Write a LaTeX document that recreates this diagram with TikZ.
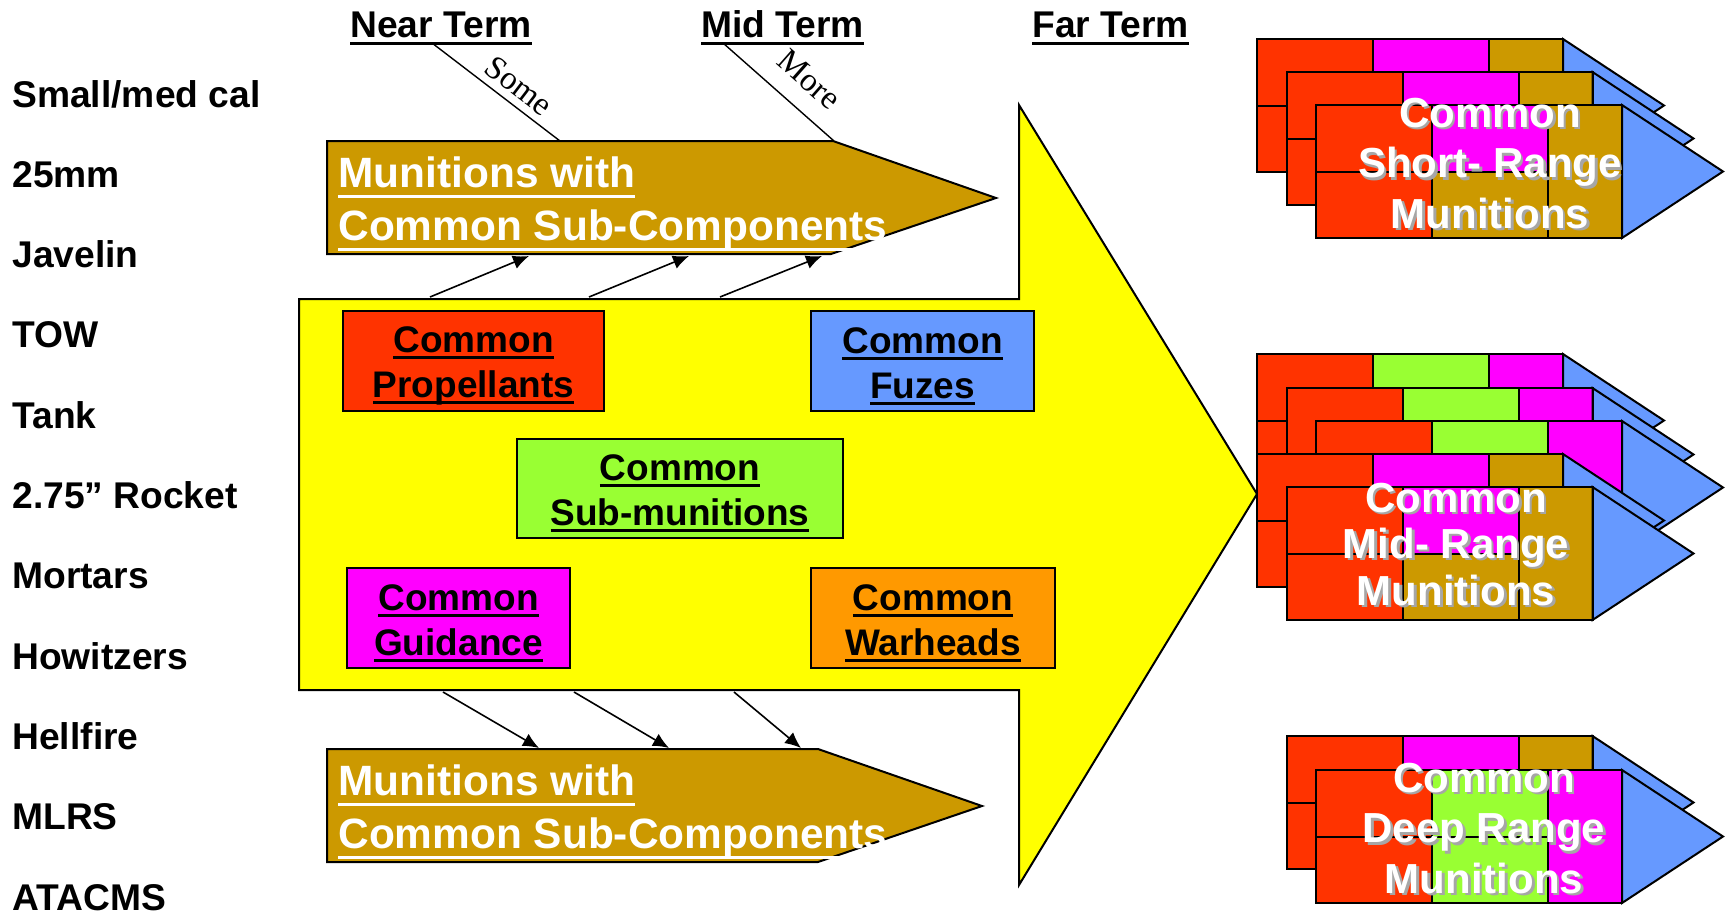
\documentclass[tikz,border=0pt]{standalone}
\usepackage{fontspec}
\setmainfont{Liberation Sans}
\newfontfamily\tnr{Liberation Serif}
\usetikzlibrary{arrows.meta}
\definecolor{cred}{HTML}{FF3300}
\definecolor{cmag}{HTML}{FF00FF}
\definecolor{cbrown}{HTML}{CC9900}
\definecolor{cblue}{HTML}{6699FF}
\definecolor{cgreen}{HTML}{99FF33}
\definecolor{corange}{HTML}{FF9900}
\definecolor{cyellow}{HTML}{FFFF00}
\definecolor{shadowgray}{HTML}{A6A6A6}
\newcommand{\ulx}[2][-3.3pt]{{\setbox0=\hbox{#2}\rlap{\rule[#1]{\wd0}{1.6pt}}\box0}}
\newcommand{\pencil}[5]{%
  \begin{scope}[shift={(#1,#2)}]
    \fill[cred] (0,0) rectangle (116,133);
    \fill[#3] (116,0) rectangle (232,66.5);
    \fill[#4] (116,66.5) rectangle (232,133);
    \fill[#5] (232,0) rectangle (306,133);
    \draw[pline, fill=cblue] (306,0) -- (407,66.5) -- (306,133) -- cycle;
    \draw[pline] (0,0) rectangle (306,133) (116,0) -- (116,133) (232,0) -- (232,133) (0,66.5) -- (232,66.5);
  \end{scope}}
\newcommand{\shtext}[4]{%
  \node[ptext, text=shadowgray] (#1s) at ({#2+2.5},{#3+2.5}) {#4};
  \node[ptext] (#1) at (#2,#3) {#4};}
\begin{document}
\begin{tikzpicture}[x=0.5pt,y=-0.5pt, line join=miter,
  lab/.style={anchor=base west, inner sep=0, font=\fontsize{18.6}{22}\selectfont\bfseries},
  compbox/.style={draw=black, line width=0.8pt, inner sep=0},
  comptext/.style={align=center, inner sep=0, font=\fontsize{18.5}{22.5}\selectfont\bfseries},
  mtext/.style={anchor=base west, inner sep=0, text=white, font=\fontsize{21.2}{26}\selectfont\bfseries},
  ptext/.style={anchor=base, inner sep=0, text=white, font=\fontsize{21}{25}\selectfont\bfseries},
  conn/.style={line width=0.8pt, -{Latex[length=8pt,width=7pt]}},
  thin/.style={line width=0.7pt},
  outl/.style={draw=black, line width=1pt},
  pline/.style={draw=black, line width=1pt},
  slab/.style={sloped, inner sep=1pt, font=\tnr\fontsize{16.5}{16.5}\selectfont}]
\useasboundingbox (0,0) rectangle (1729,911);

% left labels
\foreach \t [count=\i] in {Small/med cal,25mm,Javelin,TOW,Tank,2.75” Rocket,Mortars,Howitzers,Hellfire,MLRS,ATACMS}
  \node[lab] (lab\i) at (12,{107+80.3*(\i-1)}) {\t};

% titles
\node[lab] (near) at (350,37) {\ulx[-4.1pt]{Near Term}};
\node[lab] (mid) at (701,37) {\ulx[-4.1pt]{Mid Term}};
\node[lab] (far) at (1032,37) {\ulx[-4.1pt]{Far Term}};

% big yellow arrow
\draw[outl, fill=cyellow] (299,299) -- (1019,299) -- (1019,105) -- (1257,494) -- (1019,885) -- (1019,690) -- (299,690) -- cycle;

% brown arrows
\draw[outl, fill=cbrown] (327,141) -- (833,141) -- (996,198) -- (831,254) -- (327,254) -- cycle;
\draw[outl, fill=cbrown] (327,749) -- (818,749) -- (982,806) -- (818,862) -- (327,862) -- cycle;

% some / more lines
\coordinate (s1) at (432,43);
\coordinate (s2) at (560,141);
\coordinate (m1) at (723,43);
\coordinate (m2) at (834,141);
\draw[thin] (s1) -- node[slab, above=2.5pt, pos=0.59] (some) {Some} (s2);
\draw[thin] (m1) -- node[slab, above=8pt, pos=0.6] (more) {More} (m2);

% brown arrow texts
\node[mtext] (ua) at (338,187) {\ulx[-5.35pt]{Munitions with}};
\node[mtext] (ub) at (338,240) {\ulx[-5.35pt]{Common Sub-Components}};
\node[mtext] (la) at (338,795) {\ulx[-5.35pt]{Munitions with}};
\node[mtext] (lb) at (338,848) {\ulx[-5.35pt]{Common Sub-Components}};

% connectors up
\coordinate (u1s) at (430,297); \coordinate (u1e) at (529,256);
\coordinate (u2s) at (589,297); \coordinate (u2e) at (689,256);
\coordinate (u3s) at (720,297); \coordinate (u3e) at (822,256);
\draw[conn] (u1s) -- (u1e);
\draw[conn] (u2s) -- (u2e);
\draw[conn] (u3s) -- (u3e);
% connectors down
\coordinate (d1s) at (443,692); \coordinate (d1e) at (539,748);
\coordinate (d2s) at (574,692); \coordinate (d2e) at (669,748);
\coordinate (d3s) at (734,692); \coordinate (d3e) at (801,748);
\draw[conn] (d1s) -- (d1e);
\draw[conn] (d2s) -- (d2e);
\draw[conn] (d3s) -- (d3e);

% component boxes
\node[compbox, fill=cred, minimum width=130.5pt, minimum height=50pt] (prop) at (473.5,361) {};
\node[compbox, fill=cblue, minimum width=111.5pt, minimum height=50pt] (fuze) at (922.5,361) {};
\node[compbox, fill=cgreen, minimum width=163pt, minimum height=49.5pt] (subm) at (680,488.5) {};
\node[compbox, fill=cmag, minimum width=111.5pt, minimum height=50pt] (guid) at (458.5,618) {};
\node[compbox, fill=corange, minimum width=122pt, minimum height=50pt] (warh) at (933,618) {};
\node[comptext] (propt) at (473.5,366) {\ulx{Common}\\\ulx{Propellants}};
\node[comptext] (fuzet) at (922.5,366) {\ulx{Common}\\\ulx{Fuzes}};
\node[comptext] (submt) at (680,493.5) {\ulx{Common}\\\ulx{Sub-munitions}};
\node[comptext] (guidt) at (458.5,623) {\ulx{Common}\\\ulx{Guidance}};
\node[comptext] (warht) at (933,623) {\ulx{Common}\\\ulx{Warheads}};

% short range
\pencil{1257}{39}{cmag}{cbrown}{cbrown}
\pencil{1286.5}{72}{cmag}{cbrown}{cbrown}
\pencil{1316}{105}{cmag}{cbrown}{cbrown}
% mid range
\pencil{1257}{354}{cgreen}{cgreen}{cmag}
\pencil{1286.5}{388}{cgreen}{cgreen}{cmag}
\pencil{1316}{421}{cgreen}{cgreen}{cmag}
\pencil{1257}{454}{cmag}{cbrown}{cbrown}
\pencil{1286.5}{487}{cmag}{cbrown}{cbrown}
% deep range
\pencil{1286.5}{736}{cmag}{cbrown}{cbrown}
\pencil{1316}{770}{cgreen}{cgreen}{cmag}

% group texts
\shtext{sr1}{1490}{127}{Common}
\shtext{sr2}{1490}{177.5}{Short- Range}
\shtext{sr3}{1490}{228}{Munitions}
\shtext{mr1}{1456}{512}{Common}
\shtext{mr2}{1456}{558}{Mid- Range}
\shtext{mr3}{1456}{605}{Munitions}
\shtext{dr1}{1484}{792}{Common}
\shtext{dr2}{1484}{842.5}{Deep Range}
\shtext{dr3}{1484}{893}{Munitions}
\end{tikzpicture}
\end{document}
